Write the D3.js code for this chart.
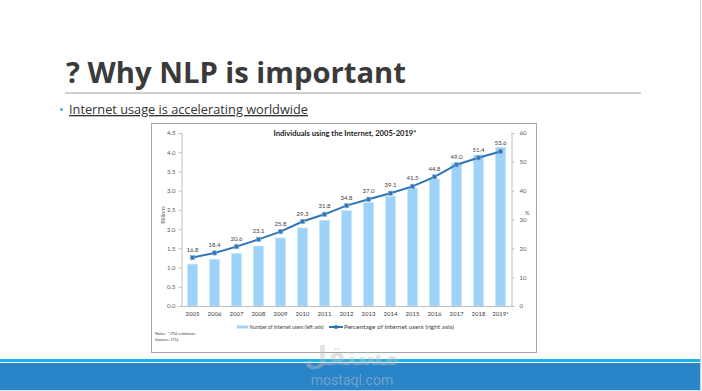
<!DOCTYPE html>
<html>
<head>
<meta charset="utf-8">
<script src="https://cdn.jsdelivr.net/npm/d3@7"></script>
<style>
  body { margin: 0; background: #fff; }
  svg { display: block; }
</style>
</head>
<body>
<svg width="702" height="391"></svg>
<script>
// chart values
const years = ["2005", "2006", "2007", "2008", "2009", "2010", "2011", "2012", "2013", "2014", "2015", "2016", "2017", "2018", "2019*"];
const users = [1.09, 1.21, 1.37, 1.56, 1.77, 2.03, 2.23, 2.48, 2.69, 2.85, 3.06, 3.30, 3.71, 3.93, 4.13];
const percent = [16.8, 18.4, 20.6, 23.1, 25.8, 29.3, 31.8, 34.8, 37.0, 39.1, 41.5, 44.8, 49.0, 51.4, 53.6];
const leftTicks = [0, 0.5, 1, 1.5, 2, 2.5, 3, 3.5, 4, 4.5];
const rightTicks = [0, 10, 20, 30, 40, 50, 60];

const svg = d3.select("svg");

// ---- slide decoration ----
svg.append("line")
  .attr("x1", 700.5).attr("x2", 700.5).attr("y1", 0).attr("y2", 391)
  .attr("stroke", "#d0d0d0").attr("stroke-width", 1);

svg.append("text")
  .attr("x", 66).attr("y", 83)
  .attr("font-family", "Open Sans")
  .attr("font-weight", "bold")
  .attr("font-size", 29.4)
  .attr("fill", "#3a3a3a")
  .attr("textLength", 340)
  .attr("lengthAdjust", "spacingAndGlyphs")
  .text("? Why NLP is important");

svg.append("line")
  .attr("x1", 65).attr("x2", 641).attr("y1", 93).attr("y2", 93)
  .attr("stroke", "#cfcfcf").attr("stroke-width", 2);

svg.append("text")
  .attr("x", 59).attr("y", 114)
  .attr("font-family", "Open Sans")
  .attr("font-size", 12)
  .attr("fill", "#29a8e0")
  .text("•");

svg.append("text")
  .attr("x", 69).attr("y", 114)
  .attr("font-family", "Open Sans")
  .attr("font-size", 13.2)
  .attr("fill", "#333")
  .attr("text-decoration", "underline")
  .attr("textLength", 239)
  .attr("lengthAdjust", "spacingAndGlyphs")
  .text("Internet usage is accelerating worldwide");

// chart frame
svg.append("rect")
  .attr("x", 151.5).attr("y", 123.5).attr("width", 385).attr("height", 229)
  .attr("fill", "#fff").attr("stroke", "#a6a6a6").attr("stroke-width", 1);

// ---- chart ----
const chartFont = "Lato";
const x = d3.scaleBand().domain(years).range([181.5, 511.5]).paddingInner(0.55).paddingOuter(0.275);
const yL = d3.scaleLinear().domain([0, 4.5]).range([306, 133]);
const yR = d3.scaleLinear().domain([0, 60]).range([306, 133]);

svg.append("text")
  .attr("x", 345).attr("y", 136)
  .attr("text-anchor", "middle")
  .attr("font-family", chartFont)
  .attr("font-weight", "bold")
  .attr("font-size", 7.6)
  .attr("fill", "#222")
  .text("Individuals using the Internet, 2005-2019*");

// bars
svg.append("g").selectAll("rect")
  .data(years)
  .join("rect")
  .attr("x", d => x(d))
  .attr("width", x.bandwidth())
  .attr("y", (d, i) => yL(users[i]))
  .attr("height", (d, i) => yL(0) - yL(users[i]))
  .attr("fill", "#9dd3f8")
  .attr("stroke", "#c4e4fa")
  .attr("stroke-width", 0.8);

// left axis
const gL = svg.append("g")
  .attr("transform", "translate(181.5,0)")
  .call(d3.axisLeft(yL).tickValues(leftTicks).tickFormat(d3.format(".1f")).tickSize(3).tickPadding(3));
gL.selectAll("text").attr("font-family", chartFont).attr("font-size", 6).attr("fill", "#595959");
gL.selectAll("line, path").attr("stroke", "#bfbfbf");

// right axis
const gR = svg.append("g")
  .attr("transform", "translate(511.5,0)")
  .call(d3.axisRight(yR).tickValues(rightTicks).tickFormat(d3.format("d")).tickSize(3).tickPadding(5));
gR.selectAll("text").attr("font-family", chartFont).attr("font-size", 6).attr("fill", "#595959");
gR.selectAll("line, path").attr("stroke", "#bfbfbf");

// bottom axis
const gX = svg.append("g")
  .attr("transform", "translate(0,306)")
  .call(d3.axisBottom(x).tickSize(0).tickPadding(6));
gX.selectAll("text").attr("font-family", chartFont).attr("font-size", 6).attr("fill", "#404040");
gX.select(".domain").attr("stroke", "#bfbfbf");

// axis titles
svg.append("text")
  .attr("transform", "translate(165,215) rotate(-90)")
  .attr("text-anchor", "middle")
  .attr("font-family", chartFont)
  .attr("font-size", 5.5)
  .attr("fill", "#595959")
  .text("Billions");

svg.append("text")
  .attr("x", 525).attr("y", 215)
  .attr("font-family", chartFont)
  .attr("font-size", 5.5)
  .attr("fill", "#595959")
  .text("%");

// percentage line
const cx = d => x(d) + x.bandwidth() / 2;
const line = d3.line()
  .x(d => cx(d))
  .y((d, i) => yR(percent[i]));

svg.append("path")
  .datum(years)
  .attr("fill", "none")
  .attr("stroke", "#2e75b6")
  .attr("stroke-width", 2)
  .attr("stroke-linejoin", "round")
  .attr("d", line);

svg.append("g").selectAll("path")
  .data(years)
  .join("path")
  .attr("transform", (d, i) => `translate(${cx(d)},${yR(percent[i])})`)
  .attr("d", d3.symbol(d3.symbolSquare, 18))
  .attr("fill", "#2e75b6")
  .attr("stroke", "#8db3dc")
  .attr("stroke-width", 0.7);

svg.append("g").selectAll("text")
  .data(years)
  .join("text")
  .attr("x", d => cx(d))
  .attr("y", (d, i) => yR(percent[i]) - 6)
  .attr("text-anchor", "middle")
  .attr("font-family", chartFont)
  .attr("font-size", 6)
  .attr("fill", "#404040")
  .text((d, i) => d3.format(".1f")(percent[i]));

// legend
svg.append("rect")
  .attr("x", 237).attr("y", 325.5).attr("width", 11).attr("height", 3)
  .attr("fill", "#9dd3f8");
svg.append("text")
  .attr("x", 249.5).attr("y", 329)
  .attr("font-family", chartFont)
  .attr("font-size", 5.2)
  .attr("fill", "#404040")
  .attr("textLength", 74)
  .attr("lengthAdjust", "spacingAndGlyphs")
  .text("Number of Internet users (left axis)");
svg.append("line")
  .attr("x1", 329).attr("x2", 343).attr("y1", 327).attr("y2", 327)
  .attr("stroke", "#2e75b6").attr("stroke-width", 2);
svg.append("path")
  .attr("transform", "translate(336,327)")
  .attr("d", d3.symbol(d3.symbolSquare, 12))
  .attr("fill", "#2e75b6");
svg.append("text")
  .attr("x", 344).attr("y", 329)
  .attr("font-family", chartFont)
  .attr("font-size", 5.2)
  .attr("fill", "#404040")
  .attr("textLength", 110)
  .attr("lengthAdjust", "spacingAndGlyphs")
  .text("Percentage of Internet users (right axis)");

// notes
svg.append("text")
  .attr("x", 155).attr("y", 335)
  .attr("font-family", chartFont)
  .attr("font-size", 4.5)
  .attr("fill", "#404040")
  .text("Note: * ITU estimate");
svg.append("text")
  .attr("x", 155).attr("y", 341)
  .attr("font-family", chartFont)
  .attr("font-size", 4.5)
  .attr("fill", "#404040")
  .text("Source: ITU.");

// ---- footer band ----
svg.append("rect")
  .attr("x", 0).attr("y", 359).attr("width", 700).attr("height", 3)
  .attr("fill", "#1fb1ea");
svg.append("rect")
  .attr("x", 0).attr("y", 363).attr("width", 700).attr("height", 27)
  .attr("fill", "#2a84c8");
svg.append("rect")
  .attr("x", 0).attr("y", 390).attr("width", 702).attr("height", 1)
  .attr("fill", "#dcdcdc");

// watermark
svg.append("text")
  .attr("x", 352).attr("y", 365)
  .attr("text-anchor", "middle")
  .attr("font-family", "DejaVu Sans")
  .attr("font-weight", "bold")
  .attr("font-size", 26)
  .attr("fill", "rgba(190,190,190,0.45)")
  .text("مستقل");
svg.append("text")
  .attr("x", 352).attr("y", 385)
  .attr("text-anchor", "middle")
  .attr("font-family", "Roboto")
  .attr("font-size", 14)
  .attr("fill", "rgba(200,200,200,0.45)")
  .text("mostaql.com");
</script>
</body>
</html>
